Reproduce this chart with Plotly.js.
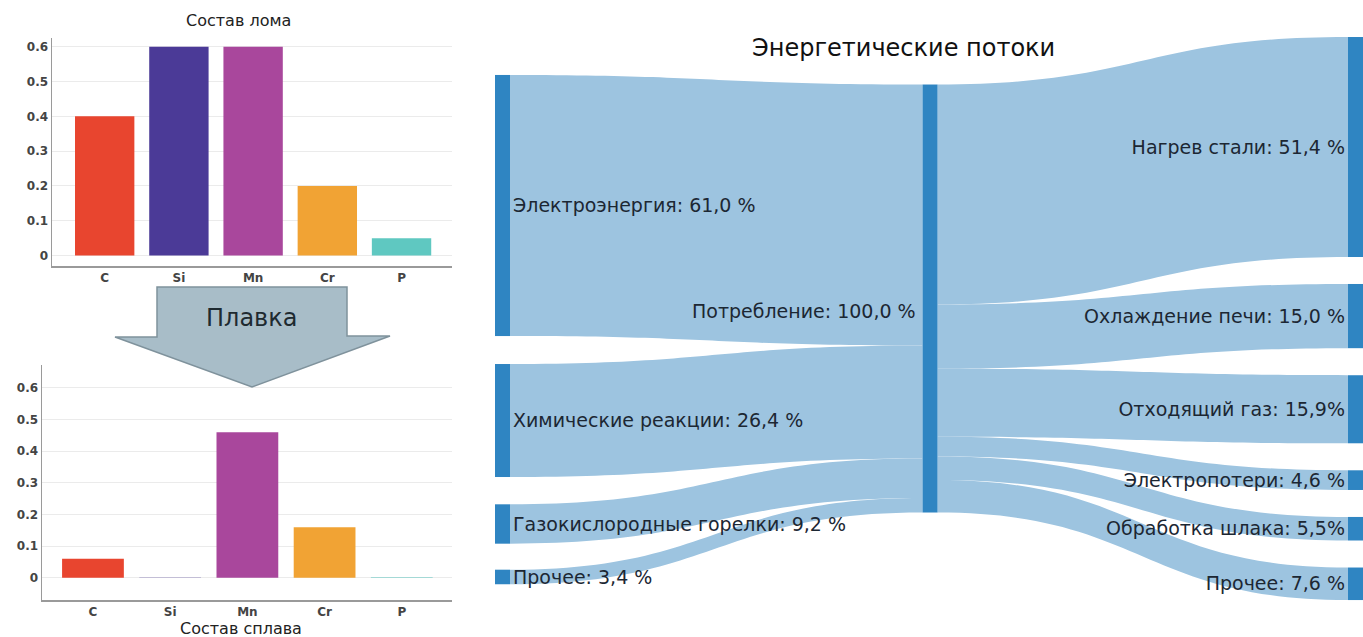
<!DOCTYPE html>
<html>
<head>
<meta charset="utf-8">
<script src="https://cdn.plot.ly/plotly-3.0.1.min.js"></script>
<style>html,body{margin:0;padding:0;background:#fff;}#chart{width:1363px;height:637px;}</style>
</head>
<body>
<div id="chart"></div>
<script>
// ---- data ----
const elements = ["C", "Si", "Mn", "Cr", "P"];
const scrapComposition = [0.4, 0.6, 0.6, 0.2, 0.05];
const alloyComposition = [0.06, 0.001, 0.46, 0.16, 0.002];
const elementColors = ["#e8452f", "#4b3a97", "#a9479c", "#f1a334", "#5fc8c1"];

const energyNodes = [
  "Электроэнергия: 61,0 %",
  "Химические реакции: 26,4 %",
  "Газокислородные горелки: 9,2 %",
  "Прочее: 3,4 %",
  "Потребление: 100,0 %",
  "Нагрев стали: 51,4 %",
  "Охлаждение печи: 15,0 %",
  "Отходящий газ: 15,9%",
  "Электропотери: 4,6 %",
  "Обработка шлака: 5,5%",
  "Прочее: 7,6 %"
];
const linkSource = [0, 1, 2, 3, 4, 4, 4, 4, 4, 4];
const linkTarget = [4, 4, 4, 4, 5, 6, 7, 8, 9, 10];
const linkValue  = [61.0, 26.4, 9.2, 3.4, 51.4, 15.0, 15.9, 4.6, 5.5, 7.6];

// ---- layout helpers (positions, not data) ----
const W = 1363, H = 637;
const px = x => x / W;
const py = y => 1 - y / H;
const nodePlacement = {
  x: [0.00864, 0.00864, 0.00864, 0.00864, 0.5012, 0.99136, 0.99136, 0.99136, 0.99136, 0.99136, 0.99136],
  y: [0.2993, 0.6812, 0.865, 0.9591, 0.4645, 0.1954, 0.4957, 0.6612, 0.7871, 0.8734, 0.9712]
};
// the central node's label sits on the left of its node (drawn as annotation)
const centralNode = 4;
const nodeLabels = energyNodes.map((t, i) => i === centralNode ? "" : t);

const tickFont = {family: "DejaVu Sans", size: 12, color: "#444", weight: "bold"};
const textFamily = "DejaVu Sans";
const sankeyFont = {family: textFamily, size: 19, color: "#1c2733"};

const traces = [
  {
    type: "bar", x: elements, y: scrapComposition, xaxis: "x", yaxis: "y",
    marker: {color: elementColors}, width: 0.8, hoverinfo: "none", showlegend: false
  },
  {
    type: "bar", x: elements, y: alloyComposition, xaxis: "x2", yaxis: "y2",
    marker: {color: elementColors}, width: 0.8, hoverinfo: "none", showlegend: false
  },
  {
    type: "sankey",
    domain: {x: [px(495), 1], y: [py(600), py(37)]},
    arrangement: "fixed",
    hoverinfo: "none",
    node: {
      label: nodeLabels,
      x: nodePlacement.x,
      y: nodePlacement.y,
      color: "#2f85c2",
      thickness: 15,
      pad: 27,
      line: {width: 0},
      hoverinfo: "none"
    },
    link: {
      source: linkSource, target: linkTarget, value: linkValue,
      color: "rgba(157,196,224,1)", hoverinfo: "none"
    },
    textfont: Object.assign({shadow: "none"}, sankeyFont)
  }
];

const xaxisBase = {
  type: "category", showline: true, linecolor: "#9a9a9a", linewidth: 1.5,
  showgrid: false, zeroline: false, ticks: "", ticklabelstandoff: 0,
  tickfont: tickFont, fixedrange: true
};
const yaxisBase = {
  showline: true, linecolor: "#9a9a9a", linewidth: 1.5, showgrid: true,
  gridcolor: "#ebebeb", zeroline: false, dtick: 0.1, tick0: 0,
  tickfont: tickFont, ticks: "", fixedrange: true
};

const layout = {
  width: W, height: H,
  margin: {l: 0, r: 0, t: 0, b: 0},
  paper_bgcolor: "#fff", plot_bgcolor: "#fff",
  font: {family: textFamily, color: "#222"},
  showlegend: false,
  xaxis: Object.assign({}, xaxisBase, {domain: [px(52), px(452)], range: [-0.71, 4.68], anchor: "y"}),
  yaxis: Object.assign({}, yaxisBase, {domain: [py(266), py(38)], range: [-0.03, 0.625], anchor: "x"}),
  xaxis2: Object.assign({}, xaxisBase, {domain: [px(42), px(452)], range: [-0.66, 4.65], anchor: "y2"}),
  yaxis2: Object.assign({}, yaxisBase, {domain: [py(600), py(365)], range: [-0.07, 0.672], anchor: "x2"}),
  shapes: [
    {
      type: "path", xref: "paper", yref: "paper",
      path: "M " + px(157) + "," + py(287) + " L " + px(347) + "," + py(287) +
            " L " + px(347) + "," + py(336) + " L " + px(390) + "," + py(336) +
            " L " + px(252) + "," + py(387) + " L " + px(115) + "," + py(337) +
            " L " + px(157) + "," + py(337) + " Z",
      fillcolor: "#a8bdc8", line: {color: "#7f929c", width: 1.5}, layer: "above"
    }
  ],
  annotations: [
    {text: "Состав лома", xref: "paper", yref: "paper", x: px(238), y: py(21),
     xanchor: "center", yanchor: "middle",
     showarrow: false, font: {family: textFamily, size: 16, color: "#222"}},
    {text: "Состав сплава", xref: "paper", yref: "paper", x: px(241), y: py(628),
     xanchor: "center", yanchor: "middle",
     showarrow: false, font: {family: textFamily, size: 16, color: "#222"}},
    {text: "Плавка", xref: "paper", yref: "paper", x: px(251), y: py(318),
     xanchor: "center", yanchor: "middle",
     showarrow: false, font: {family: textFamily, size: 24, color: "#1e2a30"}},
    {text: "Энергетические потоки", xref: "paper", yref: "paper", x: px(903), y: py(48),
     xanchor: "center", yanchor: "middle",
     showarrow: false, font: {family: textFamily, size: 24, color: "#111"}},
    {text: energyNodes[centralNode], xref: "paper", yref: "paper", x: px(918), y: py(311),
     xanchor: "right", yanchor: "middle",
     showarrow: false, font: sankeyFont}
  ]
};

Plotly.newPlot("chart", traces, layout, {displayModeBar: false, staticPlot: true});
</script>
</body>
</html>
